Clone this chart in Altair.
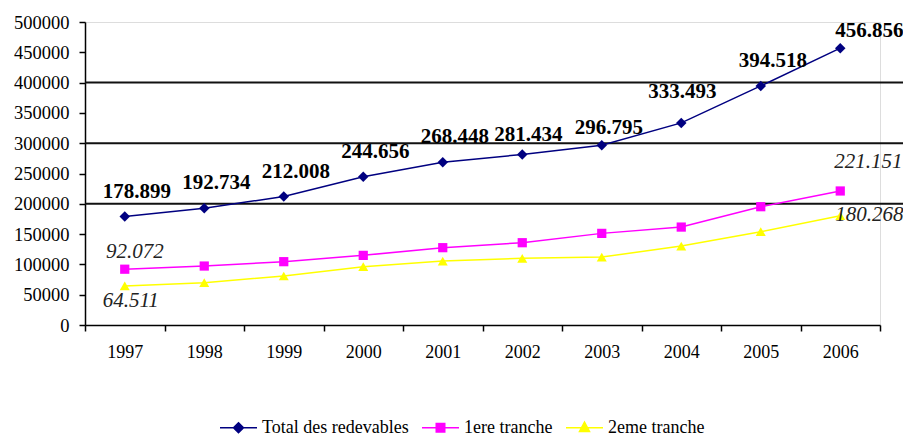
import altair as alt
import pandas as pd

# ---- data ----
years = ["1997", "1998", "1999", "2000", "2001", "2002", "2003", "2004", "2005", "2006"]
total = [178899, 192734, 212008, 244656, 268448, 281434, 296795, 333493, 394518, 456856]
tranche1 = [92072, 97300, 104500, 114900, 127600, 135800, 151200, 161600, 195200, 221151]
tranche2 = [64511, 69900, 80800, 96300, 105500, 110000, 112100, 130200, 154000, 180268]
series_names = ["Total des redevables", "1ere tranche", "2eme tranche"]
grid_values = [200000, 300000, 400000]
y_ticks = [0, 50000, 100000, 150000, 200000, 250000, 300000, 350000, 400000, 450000, 500000]

# ---- styles ----
colors = ["#000080", "#FF00FF", "#FFFF00"]
marker_shapes = ["diamond", "square", "triangle-up"]
marker_sizes = [110, 85, 100]
legend_paths = [
    "M-1,0H1M0,-0.27L0.27,0L0,0.27L-0.27,0Z",
    "M-1,0H1M-0.23,-0.23H0.23V0.23H-0.23Z",
    "M-1,0H1M0,-0.3L0.27,0.2H-0.27Z",
]
SERIF = "Liberation Serif"
W, H = 795, 303


def fmt(v):
    return f"{v:,}".replace(",", ".")


rows = []
for name, vals in zip(series_names, [total, tranche1, tranche2]):
    for yr, v in zip(years, vals):
        rows.append({"year": yr, "series": name, "value": v, "label": fmt(v)})
df = pd.DataFrame(rows)
grid_df = pd.DataFrame({"value": grid_values})

x_enc = alt.X(
    "year:O",
    scale=alt.Scale(type="band", paddingInner=0, paddingOuter=0),
    axis=alt.Axis(
        title=None, tickBand="extent", labelAngle=0, labelFont=SERIF,
        labelFontSize=18, labelColor="black", labelPadding=12, tickSize=6,
        tickColor="black", tickWidth=1.5, domainColor="black",
        domainWidth=1.5, grid=False,
    ),
)
y_enc = alt.Y(
    "value:Q",
    scale=alt.Scale(domain=[0, 500000], nice=False, zero=True),
    axis=alt.Axis(
        title=None, values=y_ticks, format="d", labelFont=SERIF,
        labelFontSize=18.5, labelColor="black", labelPadding=10, tickSize=6,
        tickColor="black", tickWidth=1.5, domainColor="black",
        domainWidth=1.5, grid=False,
    ),
)

base = alt.Chart(df)

grid = alt.Chart(grid_df).mark_rule(color="#111", strokeWidth=2, clip=False).encode(
    y=y_enc, x=alt.value(0), x2=alt.value(W + 23)
)

lines, markers = [], []
for name, col, shp, sz in zip(series_names, colors, marker_shapes, marker_sizes):
    sub = base.transform_filter(alt.datum.series == name)
    lines.append(sub.mark_line(strokeWidth=1.5, color=col).encode(x=x_enc, y=y_enc))
    markers.append(
        sub.mark_point(shape=shp, filled=True, size=sz, opacity=1, color=col)
        .encode(x=x_enc, y=y_enc)
    )

leg = alt.Legend(
    title=None, orient="none", legendX=134, legendY=386, direction="horizontal",
    symbolSize=1369, symbolStrokeWidth=1.5, symbolOpacity=1,
    labelFont=SERIF, labelFontSize=18, labelColor="black", labelOffset=4,
    labelLimit=400, columnPadding=10,
)
legend_layer = base.mark_point(filled=True, opacity=0).encode(
    x=x_enc, y=y_enc,
    fill=alt.Fill("series:N", scale=alt.Scale(domain=series_names, range=colors), legend=leg),
    stroke=alt.Stroke("series:N", scale=alt.Scale(domain=series_names, range=colors), legend=leg),
    shape=alt.Shape("series:N", scale=alt.Scale(domain=series_names, range=legend_paths), legend=leg),
)

# bold labels of the total series (small per-label nudges)
nudges = {(12, -25): ["1997", "1998", "1999", "2000", "2001", "2005"],
          (6, -19): ["2002"], (7, -17): ["2003"], (1, -31): ["2004"], (29, -17): ["2006"]}
total_labels = []
for (dx, dy), yrs in nudges.items():
    total_labels.append(
        base.transform_filter(alt.datum.series == series_names[0])
        .transform_filter(alt.FieldOneOfPredicate(field="year", oneOf=yrs))
        .mark_text(font=SERIF, fontSize=21, fontWeight="bold", color="black",
                   dx=dx, dy=dy, baseline="middle", align="center")
        .encode(x=x_enc, y=y_enc, text="label:N")
    )

small_nudges = [
    (series_names[1], "1997", 10, -17),
    (series_names[1], "2006", 28, -29),
    (series_names[2], "1997", 6, 15),
    (series_names[2], "2006", 29, -1),
]
small_labels = []
for name, yr, dx, dy in small_nudges:
    small_labels.append(
        base.transform_filter((alt.datum.series == name) & (alt.datum.year == yr))
        .mark_text(font=SERIF, fontSize=21, fontStyle="italic", color="#222",
                   dx=dx, dy=dy, baseline="middle", align="center")
        .encode(x=x_enc, y=y_enc, text="label:N")
    )

chart = alt.layer(grid, *lines, *markers, legend_layer, *total_labels, *small_labels).properties(
    width=W, height=H,
    autosize=alt.AutoSizeParams(type="none"),
    padding={"left": 77, "top": 14, "right": 23, "bottom": 125},
).configure_view(stroke=None).configure(background="white").configure_legend(
    labelFont=SERIF, labelFontSize=18, labelColor="black", labelLimit=400
)

chart.save("out.html", embed_options={"renderer": "svg", "actions": False})
